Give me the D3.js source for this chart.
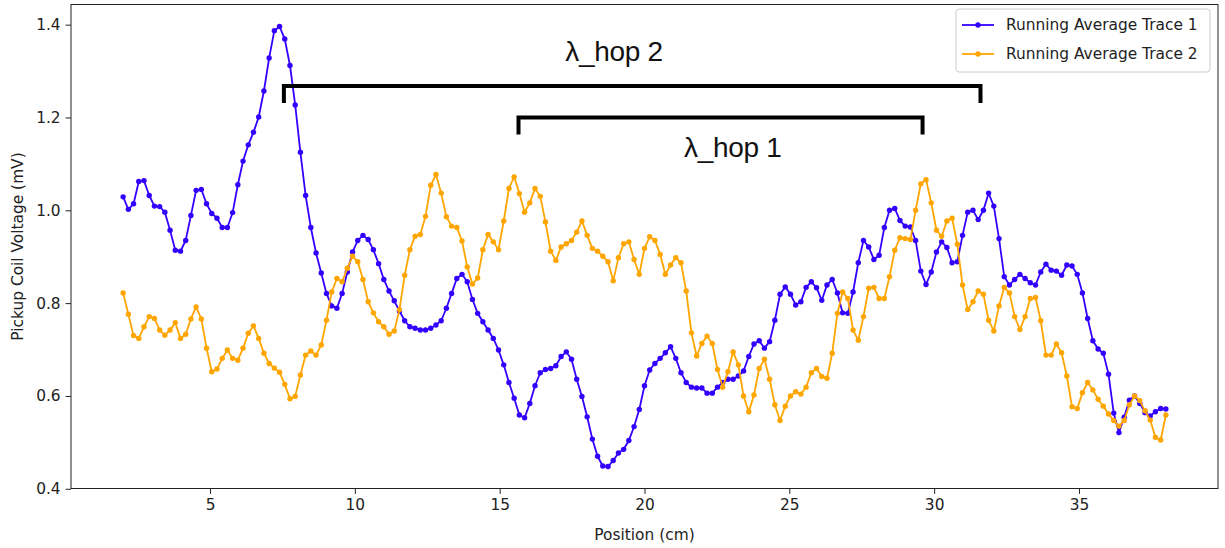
<!DOCTYPE html>
<html>
<head>
<meta charset="utf-8">
<script src="https://cdnjs.cloudflare.com/ajax/libs/d3/7.8.5/d3.min.js"></script>
<style>
body { margin: 0; background: #fff; }
text { font-family: "DejaVu Sans", sans-serif; fill: #222; }
.axis path, .axis line { stroke: #222; }
</style>
</head>
<body>
<div id="chart"></div>
<script>
// sample grid along the coil track (cm)
var positionStart = 2;
var positionStep = 0.18;

var trace1 = [
    1.029, 1.002, 1.014, 1.062, 1.064, 1.032, 1.009, 1.008, 0.996, 0.957,
    0.914, 0.912, 0.935, 0.989, 1.043, 1.045, 1.014, 0.993, 0.983, 0.963,
    0.963, 0.995, 1.055, 1.106, 1.141, 1.168, 1.201, 1.257, 1.328, 1.387,
    1.396, 1.369, 1.312, 1.227, 1.125, 1.032, 0.963, 0.908, 0.865, 0.821,
    0.794, 0.789, 0.821, 0.867, 0.910, 0.935, 0.946, 0.937, 0.915, 0.885,
    0.851, 0.826, 0.805, 0.783, 0.762, 0.749, 0.746, 0.742, 0.742, 0.746,
    0.753, 0.762, 0.789, 0.821, 0.853, 0.862, 0.846, 0.808, 0.778, 0.760,
    0.742, 0.724, 0.699, 0.667, 0.629, 0.595, 0.559, 0.553, 0.584, 0.622,
    0.650, 0.657, 0.659, 0.665, 0.685, 0.695, 0.679, 0.636, 0.599, 0.555,
    0.507, 0.470, 0.449, 0.448, 0.461, 0.477, 0.485, 0.504, 0.534, 0.571,
    0.622, 0.656, 0.670, 0.681, 0.693, 0.706, 0.681, 0.650, 0.629, 0.619,
    0.617, 0.617, 0.606, 0.606, 0.619, 0.629, 0.636, 0.636, 0.643, 0.654,
    0.685, 0.712, 0.719, 0.703, 0.717, 0.763, 0.819, 0.835, 0.819, 0.796,
    0.803, 0.834, 0.846, 0.833, 0.806, 0.839, 0.851, 0.822, 0.779, 0.778,
    0.824, 0.887, 0.935, 0.921, 0.894, 0.903, 0.963, 1.000, 1.004, 0.978,
    0.966, 0.964, 0.935, 0.869, 0.840, 0.867, 0.910, 0.932, 0.920, 0.887,
    0.889, 0.946, 0.996, 1.000, 0.980, 1.000, 1.037, 1.009, 0.939, 0.857,
    0.839, 0.851, 0.862, 0.853, 0.844, 0.839, 0.867, 0.884, 0.871, 0.869,
    0.860, 0.882, 0.880, 0.862, 0.822, 0.767, 0.719, 0.701, 0.692, 0.647,
    0.563, 0.521, 0.554, 0.591, 0.600, 0.584, 0.564, 0.557, 0.566, 0.573,
    0.572
];

var trace2 = [
    0.822, 0.776, 0.730, 0.724, 0.749, 0.771, 0.767, 0.742, 0.731, 0.742,
    0.758, 0.724, 0.733, 0.766, 0.792, 0.766, 0.703, 0.652, 0.658, 0.681,
    0.699, 0.681, 0.677, 0.703, 0.735, 0.751, 0.724, 0.692, 0.670, 0.660,
    0.651, 0.625, 0.594, 0.599, 0.645, 0.688, 0.697, 0.688, 0.710, 0.763,
    0.824, 0.853, 0.846, 0.875, 0.901, 0.889, 0.851, 0.803, 0.779, 0.760,
    0.749, 0.733, 0.740, 0.786, 0.860, 0.915, 0.944, 0.948, 0.987, 1.054,
    1.077, 1.037, 0.986, 0.966, 0.963, 0.934, 0.878, 0.841, 0.854, 0.915,
    0.948, 0.932, 0.915, 0.977, 1.047, 1.072, 1.036, 0.996, 1.016, 1.047,
    1.030, 0.975, 0.912, 0.892, 0.921, 0.928, 0.935, 0.953, 0.977, 0.946,
    0.918, 0.912, 0.901, 0.889, 0.848, 0.898, 0.928, 0.932, 0.894, 0.862,
    0.918, 0.943, 0.935, 0.905, 0.862, 0.882, 0.898, 0.887, 0.826, 0.736,
    0.686, 0.713, 0.729, 0.713, 0.657, 0.619, 0.652, 0.695, 0.667, 0.600,
    0.566, 0.602, 0.659, 0.679, 0.636, 0.581, 0.547, 0.578, 0.600, 0.609,
    0.604, 0.619, 0.650, 0.659, 0.642, 0.638, 0.692, 0.778, 0.824, 0.810,
    0.742, 0.720, 0.771, 0.832, 0.834, 0.810, 0.810, 0.857, 0.914, 0.941,
    0.939, 0.937, 1.000, 1.057, 1.066, 1.016, 0.957, 0.944, 0.977, 0.983,
    0.927, 0.839, 0.786, 0.803, 0.826, 0.819, 0.763, 0.740, 0.794, 0.834,
    0.822, 0.771, 0.743, 0.771, 0.810, 0.812, 0.762, 0.688, 0.688, 0.712,
    0.693, 0.643, 0.577, 0.573, 0.607, 0.629, 0.613, 0.593, 0.578, 0.561,
    0.547, 0.535, 0.547, 0.581, 0.600, 0.590, 0.568, 0.548, 0.511, 0.505,
    0.559
];

var seriesNames = ["Running Average Trace 1", "Running Average Trace 2"];
var xTicks = [5, 10, 15, 20, 25, 30, 35];
var yTicks = [0.4, 0.6, 0.8, 1.0, 1.2, 1.4];

// hop wavelength brackets, in data units
var hopLabels = ["λ_hop 2", "λ_hop 1"];
var hopStart = [7.55, 15.65];
var hopEnd = [31.6, 29.6];
var hopLevel = [1.268, 1.2];
var hopLabelX = [18.95, 23.05];
var hopLabelY = [1.343, 1.137];

var width = 1225, height = 548;
var margin = {top: 4.5, right: 7, bottom: 59.5, left: 71};
var colors = ["#3300ff", "#ffa500"];
var fontSize = "15.4px";

var positions = trace1.map(function(d, i) {
    return positionStart + i * positionStep;
});
var series = [trace1, trace2].map(function(vals, k) {
    return {
        name: seriesNames[k],
        color: colors[k],
        values: vals.map(function(v, i) { return {x: positions[i], y: v}; })
    };
});

// matplotlib style 5% autoscale margins
function padded(ext) {
    var pad = (ext[1] - ext[0]) * 0.05;
    return [ext[0] - pad, ext[1] + pad];
}
var allY = trace1.concat(trace2);

var x = d3.scaleLinear()
    .domain(padded(d3.extent(positions)))
    .range([margin.left, width - margin.right]);
var y = d3.scaleLinear()
    .domain(padded(d3.extent(allY)))
    .range([height - margin.bottom, margin.top]);

var svg = d3.select("#chart").append("svg")
    .attr("width", width)
    .attr("height", height);

var line = d3.line()
    .x(function(d) { return x(d.x); })
    .y(function(d) { return y(d.y); });

var plot = svg.append("g");

series.forEach(function(s) {
    plot.append("path")
        .datum(s.values)
        .attr("fill", "none")
        .attr("stroke", s.color)
        .attr("stroke-width", 1.8)
        .attr("d", line);
    plot.append("g")
        .selectAll("circle")
        .data(s.values)
        .enter().append("circle")
        .attr("cx", function(d) { return x(d.x); })
        .attr("cy", function(d) { return y(d.y); })
        .attr("r", 2.7)
        .attr("fill", s.color);
});

// brackets
var hops = hopLabels.map(function(l, i) {
    return {label: l, x0: hopStart[i], x1: hopEnd[i], lvl: hopLevel[i], tx: hopLabelX[i], ty: hopLabelY[i]};
});
plot.selectAll(".hop")
    .data(hops)
    .enter().append("path")
    .attr("class", "hop")
    .attr("fill", "none")
    .attr("stroke", "#000")
    .attr("stroke-width", 4)
    .attr("stroke-linecap", "square")
    .attr("d", function(d) {
        var yl = y(d.lvl);
        return "M" + x(d.x0) + "," + (yl + 15) + "V" + yl + "H" + x(d.x1) + "V" + (yl + 15);
    });
plot.selectAll(".hoplabel")
    .data(hops)
    .enter().append("text")
    .attr("class", "hoplabel")
    .attr("x", function(d) { return x(d.tx); })
    .attr("y", function(d) { return y(d.ty); })
    .attr("dy", "0.35em")
    .attr("text-anchor", "middle")
    .style("font-family", "'Liberation Sans', Arial, sans-serif")
    .style("font-size", "28px")
    .style("letter-spacing", "-0.3px")
    .style("fill", "#111")
    .text(function(d) { return d.label; });

// axes
var xAxis = svg.append("g")
    .attr("class", "axis")
    .attr("transform", "translate(0," + (height - margin.bottom) + ")")
    .call(d3.axisBottom(x).tickValues(xTicks).tickSize(5.4).tickSizeOuter(0).tickPadding(5));
xAxis.select(".domain").remove();
xAxis.selectAll("text").style("font-size", fontSize).style("fill", "#222");

var yAxis = svg.append("g")
    .attr("class", "axis")
    .attr("transform", "translate(" + margin.left + ",0)")
    .call(d3.axisLeft(y).tickValues(yTicks).tickSize(5.4).tickSizeOuter(0).tickPadding(5)
        .tickFormat(d3.format(".1f")));
yAxis.select(".domain").remove();
yAxis.selectAll("text").style("font-size", fontSize).style("fill", "#222");

svg.append("rect")
    .attr("x", margin.left)
    .attr("y", margin.top)
    .attr("width", width - margin.left - margin.right)
    .attr("height", height - margin.top - margin.bottom)
    .attr("fill", "none")
    .attr("stroke", "#222")
    .attr("stroke-width", 1);

svg.append("text")
    .attr("x", (margin.left + width - margin.right) / 2)
    .attr("y", height - 8)
    .attr("text-anchor", "middle")
    .style("font-size", fontSize)
    .text("Position (cm)");

svg.append("text")
    .attr("transform", "translate(18," + ((margin.top + height - margin.bottom) / 2) + ")rotate(-90)")
    .attr("text-anchor", "middle")
    .attr("dy", "0.35em")
    .style("font-size", fontSize)
    .text("Pickup Coil Voltage (mV)");

// legend
var legend = svg.append("g").attr("transform", "translate(956,9)");
legend.append("rect")
    .attr("width", 254)
    .attr("height", 63)
    .attr("rx", 3)
    .attr("fill", "#fff")
    .attr("fill-opacity", 0.8)
    .attr("stroke", "#ccc");
var item = legend.selectAll(".item")
    .data(series)
    .enter().append("g")
    .attr("class", "item")
    .attr("transform", function(d, i) { return "translate(0," + (16 + i * 29) + ")"; });
item.append("line")
    .attr("x1", 6).attr("x2", 38)
    .attr("stroke", function(d) { return d.color; })
    .attr("stroke-width", 1.8);
item.append("circle")
    .attr("cx", 22)
    .attr("r", 2.7)
    .attr("fill", function(d) { return d.color; });
item.append("text")
    .attr("x", 50)
    .attr("dy", "0.35em")
    .style("font-size", fontSize)
    .text(function(d) { return d.name; });
</script>
</body>
</html>
